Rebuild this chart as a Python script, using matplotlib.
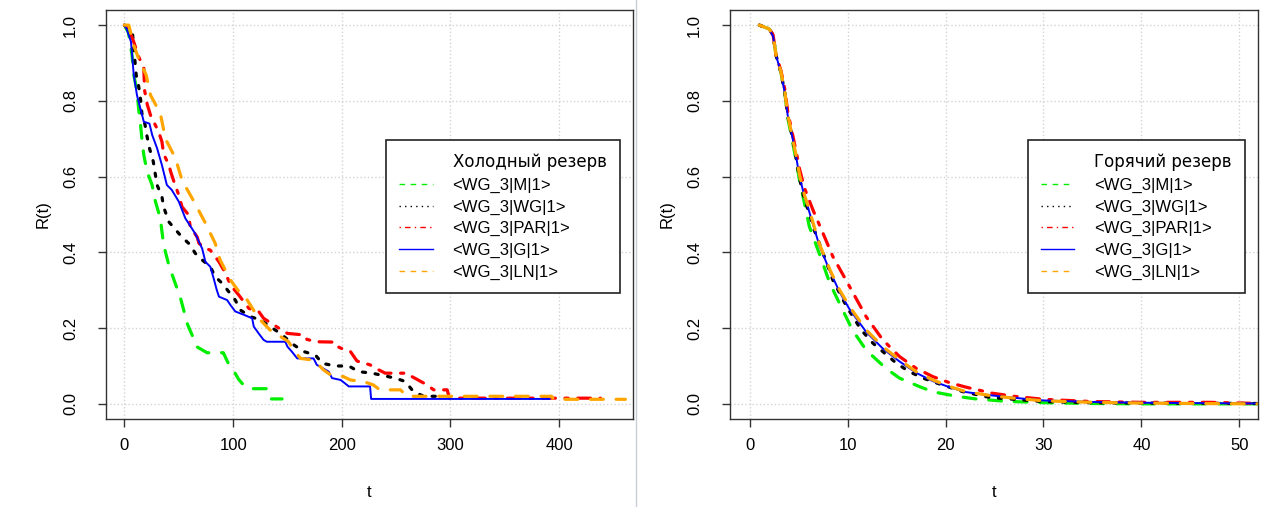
import matplotlib
matplotlib.use("Agg")
import matplotlib.pyplot as plt
from matplotlib.lines import Line2D

plt.rcParams['font.family'] = ['Liberation Sans', 'DejaVu Sans']
plt.rcParams['font.size'] = 12

# ---- cold reserve (left panel), curve vertices ----
cold_M_t = [0, 3.7, 7, 8.5, 11.6, 13, 14.5, 16.3, 17.8, 20.8, 25.4, 28.5, 33, 36, 40.5, 44, 51.5, 58, 67, 76, 91, 95, 100, 105, 111, 116, 131, 134, 145]
cold_M_r = [1.0, 0.98, 0.92, 0.87, 0.824, 0.78, 0.745, 0.692, 0.657, 0.613, 0.578, 0.534, 0.49, 0.42, 0.37, 0.34, 0.28, 0.21, 0.15, 0.135, 0.135, 0.11, 0.09, 0.065, 0.045, 0.04, 0.04, 0.013, 0.013]

cold_WG_t = [0, 4, 7.5, 10.8, 13, 15, 16, 19, 20.5, 23, 26.5, 28, 30, 34.5, 36, 41, 47, 53, 60.5, 65, 71.5, 79, 83.5, 90, 96, 102, 106.5, 116, 125, 134, 143.5, 155.7, 165, 175.7, 182, 194, 206.5, 215.5, 228, 249, 258.5, 266, 275.5, 290]
cold_WG_r = [1.0, 0.99, 0.974, 0.868, 0.84, 0.80, 0.767, 0.736, 0.71, 0.675, 0.64, 0.613, 0.578, 0.547, 0.52, 0.48, 0.46, 0.44, 0.42, 0.398, 0.38, 0.362, 0.336, 0.318, 0.296, 0.274, 0.248, 0.23, 0.222, 0.204, 0.186, 0.156, 0.138, 0.129, 0.107, 0.10, 0.10, 0.085, 0.081, 0.068, 0.059, 0.032, 0.02, 0.02]

cold_PAR_t = [0, 4, 8.5, 13, 17.8, 18.5, 21, 24, 31.5, 34.5, 36, 41, 42.5, 45.5, 50, 53, 59, 60.5, 67, 68.5, 74.5, 79, 87, 93, 97.5, 105, 114.5, 123.5, 128, 142, 150, 165, 168, 177, 194, 197, 203, 208, 214, 226, 231, 240, 260, 264.5, 278.5, 284.5, 297, 299, 438]
cold_PAR_r = [1.0, 0.99, 0.956, 0.917, 0.886, 0.828, 0.79, 0.762, 0.718, 0.692, 0.66, 0.63, 0.613, 0.587, 0.551, 0.52, 0.499, 0.468, 0.44, 0.424, 0.41, 0.406, 0.375, 0.345, 0.314, 0.288, 0.252, 0.244, 0.226, 0.2, 0.186, 0.182, 0.17, 0.164, 0.163, 0.15, 0.142, 0.138, 0.113, 0.103, 0.094, 0.081, 0.081, 0.072, 0.05, 0.037, 0.037, 0.015, 0.015]

cold_G_t = [0, 2, 6, 8.5, 11.5, 17.8, 23, 25.5, 30, 34.5, 39, 43.5, 50, 56, 65, 71.5, 74.5, 79, 82, 85, 87, 94.5, 97.5, 102, 110, 117.5, 119, 123.5, 128, 131, 148, 150, 154, 159, 174, 177, 188, 191, 199, 206.5, 226, 227, 392]
cold_G_r = [1.0, 0.99, 0.956, 0.87, 0.815, 0.745, 0.74, 0.71, 0.675, 0.63, 0.578, 0.565, 0.534, 0.49, 0.45, 0.41, 0.375, 0.362, 0.332, 0.30, 0.283, 0.274, 0.261, 0.244, 0.235, 0.226, 0.204, 0.186, 0.169, 0.164, 0.164, 0.151, 0.138, 0.12, 0.12, 0.103, 0.085, 0.068, 0.063, 0.046, 0.046, 0.013, 0.013]

cold_LN_t = [0, 4, 8.5, 13, 20, 24, 33, 37.7, 47, 53, 64, 74.5, 83.5, 88, 97.5, 106.5, 113, 123.5, 134, 139, 151, 155.7, 162, 172.5, 178.7, 183, 189.5, 201.5, 208, 220, 229, 235, 254, 260, 393, 395, 461]
cold_LN_r = [1.0, 1.0, 0.947, 0.912, 0.868, 0.815, 0.767, 0.70, 0.648, 0.59, 0.534, 0.477, 0.424, 0.38, 0.327, 0.292, 0.274, 0.226, 0.195, 0.186, 0.164, 0.142, 0.12, 0.116, 0.103, 0.09, 0.077, 0.072, 0.063, 0.059, 0.05, 0.037, 0.037, 0.02, 0.02, 0.012, 0.012]

# ---- hot reserve (right panel) ----
hot_M_t = [1, 2, 2.4, 2.7, 3.2, 3.6, 3.9, 4.4, 4.8, 5.1, 5.6, 6.1, 7.1, 8.2, 9.5, 10.5, 11.9, 13.9, 15.3, 17.3, 18.7, 21.1, 23.1, 26, 30, 35, 40, 52]
hot_M_r = [1, 0.99, 0.974, 0.92, 0.875, 0.82, 0.755, 0.69, 0.635, 0.59, 0.53, 0.468, 0.398, 0.318, 0.248, 0.195, 0.142, 0.094, 0.068, 0.046, 0.032, 0.02, 0.013, 0.007, 0.003, 0.001, 0.0, 0.0]

hot_WG_t = [1, 2, 2.4, 2.7, 3.2, 3.6, 3.9, 4.4, 4.8, 5.1, 5.6, 6.1, 6.6, 7.5, 8.5, 9.9, 11.4, 12.6, 15.0, 16.3, 17.7, 19.1, 21.8, 24.5, 27, 30, 35, 40, 52]
hot_WG_r = [1, 0.99, 0.974, 0.92, 0.875, 0.82, 0.76, 0.70, 0.64, 0.595, 0.54, 0.503, 0.459, 0.398, 0.327, 0.257, 0.195, 0.16, 0.107, 0.085, 0.068, 0.055, 0.032, 0.017, 0.012, 0.006, 0.003, 0.002, 0.001]

hot_PAR_t = [1, 2, 2.4, 2.7, 3.2, 3.6, 3.9, 4.4, 4.8, 5.1, 5.6, 6.5, 7.5, 8.5, 10.2, 11.9, 13.6, 15.3, 17.0, 18.7, 20.4, 22.1, 24.8, 27, 30, 35, 40, 47, 52]
hot_PAR_r = [1, 0.99, 0.974, 0.92, 0.88, 0.83, 0.77, 0.71, 0.66, 0.62, 0.57, 0.51, 0.45, 0.389, 0.31, 0.23, 0.169, 0.125, 0.094, 0.072, 0.056, 0.044, 0.028, 0.02, 0.012, 0.006, 0.004, 0.004, 0.001]

hot_G_t = [1, 2, 2.4, 2.7, 3.2, 3.6, 3.9, 4.4, 4.8, 5.1, 5.6, 6.0, 7.1, 8.2, 9.2, 10.2, 11.9, 13.6, 15.3, 17.0, 18.7, 20.4, 22.1, 24.8, 27, 30, 35, 40, 45, 52]
hot_G_r = [1, 0.99, 0.97, 0.92, 0.875, 0.82, 0.76, 0.70, 0.645, 0.60, 0.548, 0.515, 0.42, 0.35, 0.295, 0.25, 0.19, 0.146, 0.112, 0.082, 0.06, 0.044, 0.031, 0.022, 0.016, 0.009, 0.005, 0.003, 0.002, 0.001]

hot_LN_t = [1, 2, 2.4, 2.7, 3.2, 3.6, 3.9, 4.4, 4.8, 5.1, 5.6, 6.0, 7.1, 8.2, 9.2, 10.2, 11.9, 13.6, 15.3, 17.0, 18.7, 20.4, 22.1, 24.8, 27, 30, 35, 40, 45, 52]
hot_LN_r = [1, 0.99, 0.974, 0.92, 0.877, 0.824, 0.762, 0.70, 0.648, 0.604, 0.551, 0.52, 0.424, 0.354, 0.30, 0.257, 0.195, 0.151, 0.116, 0.085, 0.063, 0.046, 0.032, 0.021, 0.015, 0.008, 0.004, 0.002, 0.001, 0.0]

labels = ["<WG_3|M|1>", "<WG_3|WG|1>", "<WG_3|PAR|1>", "<WG_3|G|1>", "<WG_3|LN|1>"]
colors = ["#00ee00", "black", "#ff0000", "#0000ff", "#ffa500"]
styles = [(0, (4, 4)), (0, (1, 3)), (0, (1, 3, 4, 3)), "-", (0, (4, 4))]
widths = [2.3, 2.3, 2.3, 1.4, 2.3]

cold = [(cold_M_t, cold_M_r), (cold_WG_t, cold_WG_r), (cold_PAR_t, cold_PAR_r),
        (cold_G_t, cold_G_r), (cold_LN_t, cold_LN_r)]
hot = [(hot_M_t, hot_M_r), (hot_WG_t, hot_WG_r), (hot_PAR_t, hot_PAR_r),
       (hot_G_t, hot_G_r), (hot_LN_t, hot_LN_r)]

W, H = 1266, 507
fig = plt.figure(figsize=(W / 100, H / 100), dpi=100)
ax1 = fig.add_axes([106 / W, 1 - 419 / H, (633 - 106) / W, (419 - 10) / H])
ax2 = fig.add_axes([730 / W, 1 - 419 / H, (1258 - 730) / W, (419 - 10) / H])


def setup(ax, xticks, xlim, title, legend_left):
    ax.set_xlim(*xlim)
    ax.set_ylim(-0.04, 1.04)
    ax.set_xticks(xticks)
    ax.set_yticks([0, 0.2, 0.4, 0.6, 0.8, 1.0])
    ax.set_yticklabels(["0.0", "0.2", "0.4", "0.6", "0.8", "1.0"], rotation=90, va="center")
    ax.grid(True, color="#d3d3d3", linestyle=":", linewidth=1)
    ax.set_axisbelow(True)
    ax.tick_params(direction="out", length=6, width=1, labelsize=12, color="#333333")
    ax.tick_params(axis="x", pad=8)
    ax.tick_params(axis="y", pad=14)
    for s in ax.spines.values():
        s.set_color("#333333")
        s.set_linewidth(1)
    ax.set_xlabel("t", fontsize=12, labelpad=23)
    ax.set_ylabel("R(t)", fontsize=12, labelpad=9)

    handles = [Line2D([], [], linestyle="none")]
    for c, ls in zip(colors, styles):
        handles.append(Line2D([], [], color=c, linestyle=ls, linewidth=1))
    leg = ax.legend(handles, [title] + labels, loc="upper left",
                    bbox_to_anchor=(legend_left, 0.682), borderaxespad=0,
                    fancybox=False, edgecolor="#222222", framealpha=1,
                    fontsize=12, handlelength=2.0, handletextpad=1.2,
                    labelspacing=0.39, borderpad=0.8)
    leg.get_frame().set_linewidth(1.2)
    # the heading row is set a little wider in the original
    leg.get_texts()[0].set_family(["DejaVu Sans"])


for (t, r), c, ls, lw in zip(cold, colors, styles, widths):
    ax1.plot(t, r, color=c, linestyle=ls, linewidth=lw,
             dash_capstyle="round", solid_capstyle="butt")
for (t, r), c, ls, lw in zip(hot, colors, styles, widths):
    ax2.plot(t, r, color=c, linestyle=ls, linewidth=lw,
             dash_capstyle="round", solid_capstyle="butt")

setup(ax1, [0, 100, 200, 300, 400], (-17, 468), "Холодный резерв", 0.531)
setup(ax2, [0, 10, 20, 30, 40, 50], (-2, 51.9), "Горячий резерв", 0.564)

# thin separator between the two pictures
fig.add_artist(Line2D([636 / W, 636 / W], [0, 1], color="#c8ccd6", linewidth=1))

fig.savefig("out.png", dpi=100)
